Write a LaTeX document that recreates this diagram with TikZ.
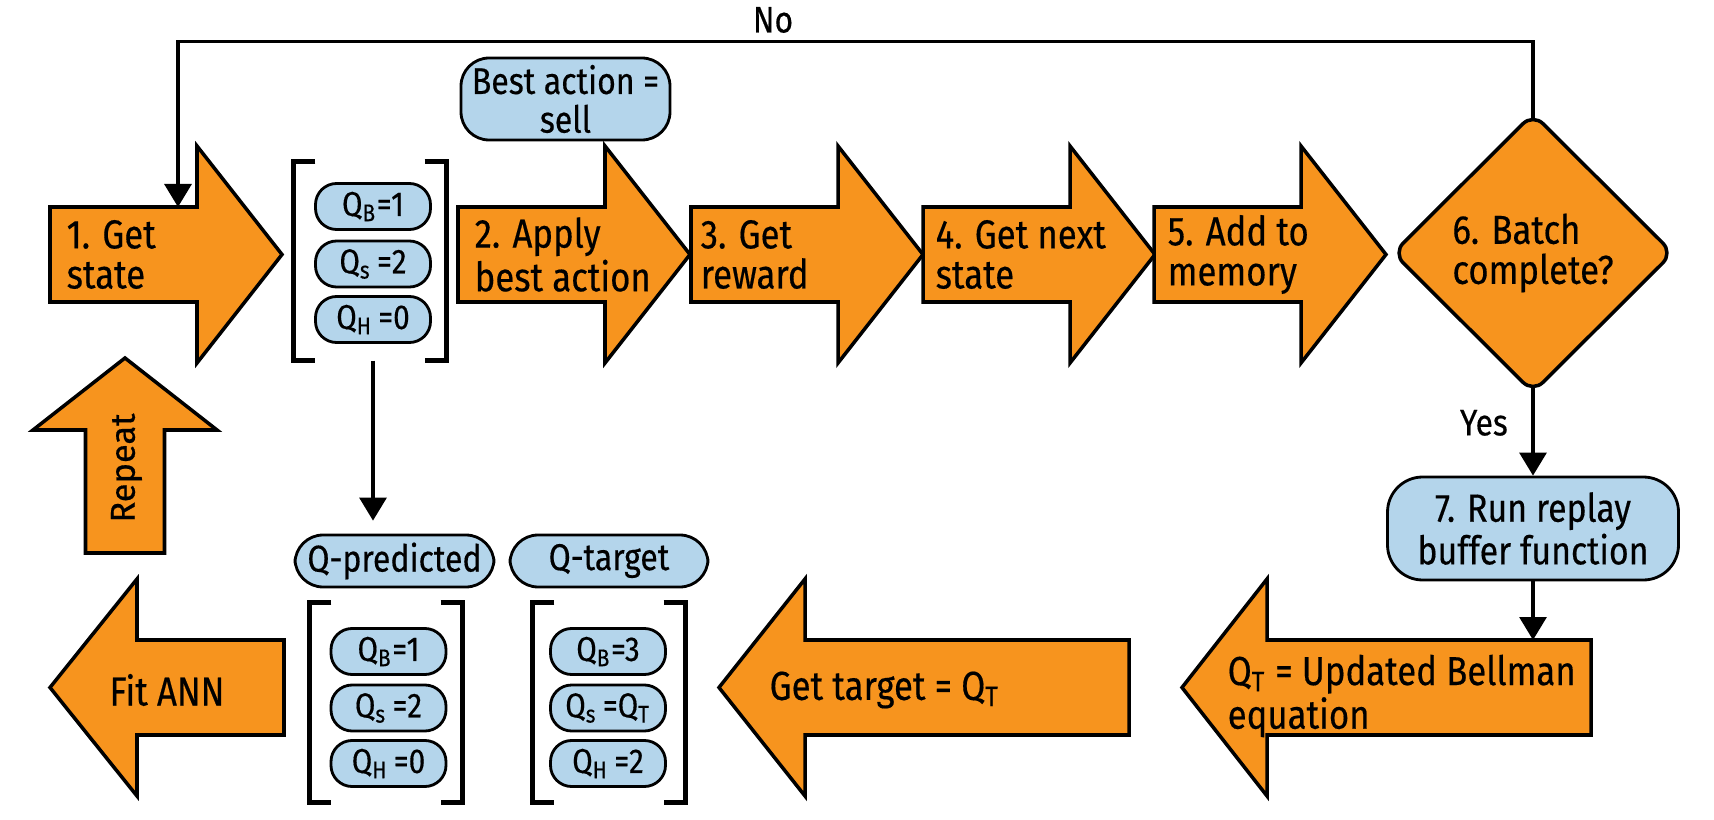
\documentclass[tikz,border=0pt]{standalone}
\usepackage{fontspec}
\setmainfont{Fira Sans}[FakeStretch=0.86,FakeBold=0.4]
\newfontfamily\widefont{Fira Sans}[FakeBold=0.4]
\usepackage{tikz}
\usetikzlibrary{arrows.meta}
\usetikzlibrary{calc}
\usetikzlibrary{shapes}

\begin{document}
\begin{tikzpicture}[
    blk/.style={fill=qorange,draw=black,line width=1pt},
    steptext/.style={anchor=west,align=left,inner sep=0pt,font=\fontsize{11.5}{11.4}\selectfont},
    pill/.style={fill=qblue,draw=black,line width=0.8pt,rounded corners=6pt,minimum width=1.15cm,minimum height=0.46cm,inner sep=0pt,font=\fontsize{9.8}{9.8}\selectfont},
    qtag/.style={fill=qblue,draw=black,line width=0.8pt,rounded corners=8pt,inner sep=0pt,align=center,font=\fontsize{10.6}{11}\selectfont},
    matbox/.style={minimum width=1.52cm,minimum height=1.98cm,inner sep=0pt},
    brk/.style={line width=1.4pt},
    conn/.style={->,line width=0.9pt,>={Triangle[length=2.3mm,width=2.7mm]}}]

\definecolor{qorange}{RGB}{247,148,30}
\definecolor{qblue}{RGB}{180,213,235}

\useasboundingbox (0,0) rectangle (17.14,-8.20);

% top row
\draw[blk] (0.50,-2.07) -- ++(1.47,0) -- ++(0,0.61) -- ++(0.85,-1.085) -- ++(-0.85,-1.085) -- ++(0,0.61) -- ++(-1.47,0) -- cycle;
\draw[blk] (4.58,-2.07) -- ++(1.47,0) -- ++(0,0.61) -- ++(0.85,-1.085) -- ++(-0.85,-1.085) -- ++(0,0.61) -- ++(-1.47,0) -- cycle;
\draw[blk] (6.91,-2.07) -- ++(1.47,0) -- ++(0,0.61) -- ++(0.85,-1.085) -- ++(-0.85,-1.085) -- ++(0,0.61) -- ++(-1.47,0) -- cycle;
\draw[blk] (9.23,-2.07) -- ++(1.47,0) -- ++(0,0.61) -- ++(0.85,-1.085) -- ++(-0.85,-1.085) -- ++(0,0.61) -- ++(-1.47,0) -- cycle;
\draw[blk] (11.54,-2.07) -- ++(1.47,0) -- ++(0,0.61) -- ++(0.85,-1.085) -- ++(-0.85,-1.085) -- ++(0,0.61) -- ++(-1.47,0) -- cycle;

\node[steptext] (t1) at (0.66,-2.545) {1. Get\\state};
\node[steptext] (t2) at (4.74,-2.545) {2. Apply\\best action};
\node[steptext] (t3) at (7.00,-2.545) {3. Get\\reward};
\node[steptext] (t4) at (9.35,-2.545) {4. Get next\\state};
\node[steptext] (t5) at (11.67,-2.545) {5. Add to\\memory};

\node[diamond,fill=qorange,draw=black,line width=1pt,rounded corners=4pt,minimum width=2.81cm,minimum height=2.80cm,inner sep=0pt,align=left,font=\fontsize{11.5}{11.4}\selectfont] (d6) at (15.33,-2.53) {6. Batch\\complete?};

\node[qtag,minimum width=2.09cm,minimum height=0.82cm] (ba) at (5.655,-0.99) {Best action =\\sell};

% current Q values
\node[matbox] (m1) at (3.70,-2.61) {};
\draw[brk] ([xshift=0.22cm]m1.north west) -| (m1.south west) -- ++(0.22,0);
\draw[brk] ([xshift=-0.22cm]m1.north east) -| (m1.south east) -- ++(-0.22,0);
\node[pill] (q1b) at (3.73,-2.065) {Q\textsubscript{B}=1};
\node[pill] (q1s) at (3.73,-2.64) {Q\textsubscript{s}\,=2};
\node[pill] (q1h) at (3.73,-3.195) {Q\textsubscript{H}\,=0};

% loop back
\coordinate (loop) at (1.78,-2.07);
\draw[conn] ([yshift=-2pt]d6.north) -- ++(0,0.77) -| (loop);
\node[font=\fontsize{10.5}{10.5}\selectfont] (no) at (7.73,-0.20) {No};

% replay buffer
\node[qtag,minimum width=2.91cm,minimum height=1.03cm,rounded corners=10pt,font=\fontsize{11.2}{11}\selectfont] (b7) at (15.33,-5.285) {7. Run replay\\buffer function};
\draw[conn] ([yshift=2pt]d6.south) -- (b7.north) node[pos=0.4,left=0.12cm,font=\fontsize{10.5}{10.5}\selectfont] {Yes};

% bottom row
\draw[blk] (11.82,-6.875) -- ++(0.85,1.085) -- ++(0,-0.61) -- ++(3.24,0) -- ++(0,-0.95) -- ++(-3.24,0) -- ++(0,-0.61) -- cycle;
\draw[blk] (7.19,-6.875) -- ++(0.86,1.085) -- ++(0,-0.61) -- ++(3.24,0) -- ++(0,-0.95) -- ++(-3.24,0) -- ++(0,-0.61) -- cycle;
\draw[blk] (0.50,-6.875) -- ++(0.87,1.085) -- ++(0,-0.61) -- ++(1.47,0) -- ++(0,-0.95) -- ++(-1.47,0) -- ++(0,-0.61) -- cycle;
\coordinate (bel) at (15.33,-6.40);
\draw[conn] (b7.south) -- (bel);

\node[steptext] (t8) at (12.27,-6.96) {Q\textsubscript{T} = Updated Bellman\\equation};
\node[steptext] (t9) at (7.69,-6.90) {Get target = Q\textsubscript{T}};
\node[steptext,anchor=center] (t10) at (1.67,-6.90) {Fit ANN};

% repeat
\draw[blk] (1.25,-3.58) -- ++(0.92,-0.72) -- ++(-0.525,0) -- ++(0,-1.23) -- ++(-0.79,0) -- ++(0,1.23) -- ++(-0.525,0) -- cycle;
\node[rotate=90,inner sep=0pt,font=\widefont\fontsize{9.8}{9.8}\selectfont] (rp) at (1.265,-4.68) {Repeat};

% predicted and target
\node[qtag,minimum width=1.99cm,minimum height=0.52cm] (qp) at (3.945,-5.61) {Q-predicted};
\node[qtag,minimum width=1.98cm,minimum height=0.52cm] (qt) at (6.09,-5.61) {Q-target};
\draw[conn,shorten >=0.13cm] (m1.south -| q1h) -- (qp.north -| q1h);

\node[matbox] (m2) at (3.86,-7.025) {};
\draw[brk] ([xshift=0.22cm]m2.north west) -| (m2.south west) -- ++(0.22,0);
\draw[brk] ([xshift=-0.22cm]m2.north east) -| (m2.south east) -- ++(-0.22,0);
\node[pill] (q2b) at (3.885,-6.515) {Q\textsubscript{B}=1};
\node[pill] (q2s) at (3.885,-7.08) {Q\textsubscript{s}\,=2};
\node[pill] (q2h) at (3.885,-7.635) {Q\textsubscript{H}\,=0};

\node[matbox] (m3) at (6.09,-7.025) {};
\draw[brk] ([xshift=0.22cm]m3.north west) -| (m3.south west) -- ++(0.22,0);
\draw[brk] ([xshift=-0.22cm]m3.north east) -| (m3.south east) -- ++(-0.22,0);
\node[pill] (q3b) at (6.08,-6.515) {Q\textsubscript{B}=3};
\node[pill] (q3s) at (6.08,-7.08) {Q\textsubscript{s}\,=Q\textsubscript{T}};
\node[pill] (q3h) at (6.08,-7.635) {Q\textsubscript{H}\,=2};

\end{tikzpicture}
\end{document}
